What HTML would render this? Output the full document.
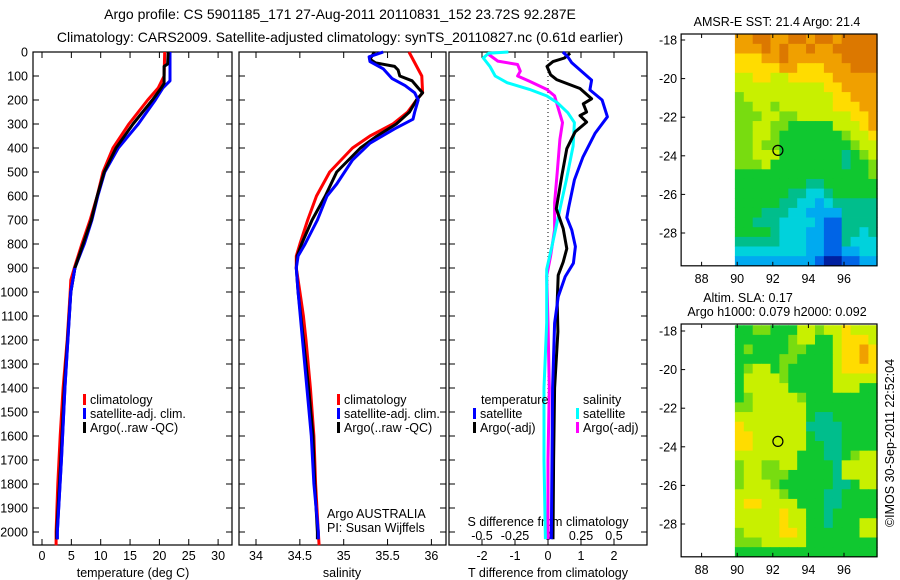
<!DOCTYPE html>
<html><head><meta charset="utf-8">
<style>
html,body{margin:0;padding:0;background:#fff;}
svg{display:block;font-family:"Liberation Sans",sans-serif;}
text{font-size:12.5px;fill:#000;}
text.ttl{font-size:14px;}
</style></head>
<body>
<svg id="chart" width="900" height="580" viewBox="0 0 900 580">
<text class="ttl" x="340" y="19" text-anchor="middle">Argo profile: CS 5901185_171 27-Aug-2011 20110831_152 23.72S 92.287E</text>
<text class="ttl" x="340" y="42" text-anchor="middle">Climatology: CARS2009. Satellite-adjusted climatology: synTS_20110827.nc (0.61d earlier)</text>
<g id="g"></g>
</svg>
<script>
// ---- data ----
const depthTicks=[0,100,200,300,400,500,600,700,800,900,1000,1100,1200,1300,1400,1500,1600,1700,1800,1900,2000];
const tempTicks=[0,5,10,15,20,25,30];
const salTicks=[34,34.5,35,35.5,36];
const tdiffTicks=[-2,-1,0,1,2];
const sdiffTicks=[-0.5,-0.25,0,0.25,0.5];
const sdiffTickLabels=["-0.5","-0.25","0","0.25","0.5"];

const climTdep=[0,100,150,200,300,400,500,600,700,800,900,950,1000,1200,1400,1600,1800,2000,2055];
const climT=[20.9,20.8,19.8,18,14.8,12.1,10.4,9.4,8.2,6.8,5.5,4.9,4.8,4.3,3.6,3.1,2.7,2.4,2.4];
const satTdep=[0,120,150,200,300,400,500,600,700,800,900,1000,1400,1700,2000,2030];
const satT=[21.8,21.8,20.6,19.3,16.4,13,10.7,9.5,8.5,7.2,5.6,4.9,3.9,3.3,2.6,2.6];
const argoTdep=[0,50,60,130,150,200,300,400,500,600,700,800,900,1000,1400,1700,2000,2030];
const argoT=[21.5,21.4,20.8,20.8,20.3,18.8,15.5,12.6,10.6,9.4,8.4,7.0,5.6,4.9,3.8,3.2,2.5,2.5];

const climSdep=[0,100,170,200,250,300,350,400,500,600,700,800,850,900,950,1000,1100,1200,1400,1600,1800,2000,2055];
const climS=[35.745,35.89,35.9,35.83,35.73,35.56,35.3,35.1,34.84,34.69,34.59,34.5,34.46,34.46,34.48,34.5,34.54,34.57,34.62,34.66,34.68,34.71,34.72];
const satSdep=[0,20,40,70,110,140,170,200,250,280,320,380,450,550,600,700,800,850,900,1000,1200,1400,1600,1800,2000,2030];
const satS=[35.45,35.29,35.3,35.45,35.55,35.7,35.81,35.85,35.81,35.79,35.58,35.3,35.1,34.92,34.81,34.7,34.56,34.48,34.46,34.48,34.53,34.58,34.63,34.66,34.71,34.71];
const argoSdep=[0,30,45,60,75,100,120,150,170,200,250,300,350,400,500,600,700,800,850,900,1000,1200,1400,1600,1800,2000,2030];
const argoS=[35.35,35.3,35.36,35.58,35.62,35.64,35.78,35.85,35.9,35.83,35.75,35.6,35.38,35.19,34.92,34.79,34.64,34.52,34.47,34.46,34.48,34.54,34.6,34.65,34.67,34.7,34.7];

const satTdDep=[0,20,45,117,158,200,270,338,437,533,645,690,742,811,880,936,1020,1130,1400,1700,2030];
const satTd=[0.45,0.6,0.72,1.32,1.27,1.64,1.8,1.43,1.06,0.8,0.63,0.57,0.72,0.83,0.77,0.52,0.31,0.2,0.14,0.12,0.1];
const argoTdDep=[5,25,40,60,95,115,152,195,216,250,265,292,333,361,403,514,653,736,819,875,930,1042,1165,1400,1700,2030];
const argoTd=[0.67,0.5,0.15,-0.03,0.08,0.26,0.97,1.32,1.07,1.17,0.97,1.17,0.82,0.72,0.57,0.42,0.25,0.46,0.57,0.46,0.31,0.28,0.3,0.2,0.17,0.15];
const satSdDep=[0,5,25,60,100,128,156,183,211,253,294,392,530,655,808,905,1127,1400,1700,2030];
const satSd=[-0.3,-0.45,-0.49,-0.44,-0.4,-0.31,-0.14,-0.01,0.07,0.15,0.2,0.19,0.14,0.09,0.03,-0.01,-0.01,-0.03,-0.03,-0.02];
const argoSdDep=[10,38,52,80,100,122,156,183,240,294,364,503,628,740,850,933,1127,1400,1700,2030];
const argoSd=[-0.45,-0.38,-0.23,-0.21,-0.23,-0.14,-0.01,0.05,0.08,0.11,0.09,0.07,0.05,0.05,0.02,-0.01,0,0.01,0,0];

const mapLonTicks=[88,90,92,94,96];
const mapLatTicks=[-18,-20,-22,-24,-26,-28];
const sstGrid=["99aa99aa9aa9aaaa","999a9a99a99aaaaa","88899a999999aaaa","8888899888999aaa","7788778888899999","7777777777889999","6777777777788999","6677677777788899","6667766777777889","6677665555577789","6677655555556778","6676655555555677","6677755555554567","6667555555554556","5555555555555556","5555555544555555","5555554433455555","5555544332344444","5554443322224444","5544433332114444","5555433322114434","4444433322114333","3333333322112233","2222222221001122"];
const slaGrid=["5566555776778777","5555556775578887","5655556655578898","5555566555578898","5677565555578888","5777765555577777","5777775555577755","5677777655555555","6677777755555555","7777777754455555","8777777744445555","8877777754445555","8877777755445555","7777777555445677","6776677555547777","6776665555547777","6777655555544577","7777765555445555","7887777555445555","7777787755455555","7777787755455577","6777788755555577","6667777755555555","5555555555555555"];
const argoLon=92.287, argoLat=-23.72;

// ---- helpers ----
const NS="http://www.w3.org/2000/svg";
const G=document.getElementById('g');
function mk(tag,attrs,parent){const e=document.createElementNS(NS,tag);for(const k in attrs)e.setAttribute(k,attrs[k]);(parent||G).appendChild(e);return e;}
const TOP=52,BOT=545;
const yD=d=>TOP+0.24*d;
const xT=t=>42+5.87*t;
const xS=s=>256+87.7*(s-34);
const xTd=v=>548+33*v;
const xSd=v=>548+132*v;

function panel(x0,x1,name){
  const r=mk('rect',{x:x0,y:TOP,width:x1-x0,height:BOT-TOP,fill:'none',stroke:'#000','stroke-width':1.2});
  
  
  depthTicks.forEach(d=>{
    const t1=mk('line',{x1:x0,x2:x0+6,y1:yD(d),y2:yD(d),stroke:'#000'});
    
    
    const t2=mk('line',{x1:x1-6,x2:x1,y1:yD(d),y2:yD(d),stroke:'#000'});
    
    
  });
}
function xticks(vals,labels,fx,name,ly){
  vals.forEach((v,i)=>{
    const a=mk('line',{x1:fx(v),x2:fx(v),y1:BOT-6,y2:BOT,stroke:'#000'});
    
    
    const b=mk('line',{x1:fx(v),x2:fx(v),y1:TOP,y2:TOP+6,stroke:'#000'});
    
    
    const t=mk('text',{x:fx(v),y:ly,'text-anchor':'middle'});
    t.textContent=labels[i];
    
    
  });
}
function series(deps,vals,fx,color,name){
  const pts=deps.map((d,i)=>fx(vals[i]).toFixed(1)+','+yD(d).toFixed(1)).join(' ');
  const p=mk('polyline',{points:pts,fill:'none',stroke:color,'stroke-width':3,'stroke-linejoin':'round'});
  
  
}
function label(x,y,txt,name,anchor){
  const t=mk('text',{x:x,y:y,'text-anchor':anchor||'start'});
  t.textContent=txt;
  
  
  return t;
}
function legend(x,y,color,txt,name){
  const m=mk('rect',{x:x,y:y-10,width:3,height:11,fill:color});
  
  
  label(x+7,y,txt,name);
}

// depth labels
depthTicks.forEach(d=>{
  const t=mk('text',{x:28,y:yD(d)+4.5,'text-anchor':'end'});
  t.textContent=d;
  
  
});

// panel 1
panel(33,232,'temperature-panel');
xticks(tempTicks,tempTicks.map(String),xT,'temperature-axis',560);
label(133,577,'temperature (deg C)','temperature-axis-title','middle');
series(climTdep,climT,xT,'#f00','temperature-climatology-line');
series(satTdep,satT,xT,'#00f','temperature-satellite-line');
series(argoTdep,argoT,xT,'#000','temperature-argo-line');
series(satTdep.slice(10),satT.slice(10),xT,'#00f','temperature-satellite-line-deep');
legend(83,404,'#f00','climatology','temperature-legend-climatology');
legend(83,418,'#00f','satellite-adj. clim.','temperature-legend-satellite');
legend(83,432,'#000','Argo(..raw -QC)','temperature-legend-argo');

// panel 2
panel(239,446,'salinity-panel');
xticks(salTicks,salTicks.map(String),xS,'salinity-axis',560);
label(342,577,'salinity','salinity-axis-title','middle');
series(climSdep,climS,xS,'#f00','salinity-climatology-line');
series(argoSdep,argoS,xS,'#000','salinity-argo-line');
series(satSdep,satS,xS,'#00f','salinity-satellite-line');
legend(337,404,'#f00','climatology','salinity-legend-climatology');
legend(337,418,'#00f','satellite-adj. clim.','salinity-legend-satellite');
legend(337,432,'#000','Argo(..raw -QC)','salinity-legend-argo');
label(327,518,'Argo AUSTRALIA','argo-australia-note');
label(327,532,'PI: Susan Wijffels','pi-note');

// panel 3
panel(449,647,'difference-panel');
const z=mk('line',{x1:xTd(0),x2:xTd(0),y1:TOP,y2:BOT,stroke:'#000','stroke-dasharray':'1,3'});


xticks(tdiffTicks,tdiffTicks.map(String),xTd,'t-difference-axis',560);
label(548,577,'T difference from climatology','t-difference-axis-title','middle');
sdiffTicks.forEach((v,i)=>{
  const t=mk('text',{x:xSd(v),y:540,'text-anchor':'middle'});
  t.textContent=sdiffTickLabels[i];
  
  
});
label(548,526,'S difference from climatology','s-difference-axis-title','middle');
series(argoSdDep,argoSd,xSd,'#f0f','salinity-argo-difference-line');
series(satSdDep,satSd,xSd,'#0ff','salinity-satellite-difference-line');
series(argoTdDep,argoTd,xTd,'#000','temperature-argo-difference-line');
series(satTdDep,satTd,xTd,'#00f','temperature-satellite-difference-line');
label(481,404,'temperature','difference-legend-temperature-heading');
label(583,404,'salinity','difference-legend-salinity-heading');
legend(473,418,'#00f','satellite','difference-legend-temperature-satellite');
legend(473,432,'#000','Argo(-adj)','difference-legend-temperature-argo');
legend(576,418,'#0ff','satellite','difference-legend-salinity-satellite');
legend(576,432,'#f0f','Argo(-adj)','difference-legend-salinity-argo');

// maps
const palette={'0':'#0020a0','1':'#0064e6','2':'#00aaf0','3':'#00d2dc','4':'#00be8c','5':'#10c830','6':'#78dc10','7':'#c8f000','8':'#ffdc00','9':'#f0a000','a':'#dc7800'};
const mLon=v=>844+17.8*(v-96);
function drawMap(grid,top,lat18,name){
  const mLat=v=>lat18+19.3*(-18-v);
  const fl=mLon(86.85), fr=877, ft=top, fb=mLat(-29.7);
  const lon0=89.87, lat0=-17.7;
  grid.forEach((row,r)=>{
    for(let c=0;c<row.length;c++){
      const x=mLon(lon0+c*0.5), y=mLat(lat0-r*0.5);
      const cell=mk('rect',{x:x.toFixed(2),y:y.toFixed(2),width:(17.8*0.5+0.4).toFixed(2),height:(19.3*0.5+0.4).toFixed(2),fill:palette[row[c]]});
      
      
    }
  });
  const f=mk('rect',{x:fl,y:ft,width:fr-fl,height:fb-ft,fill:'none',stroke:'#000','stroke-width':1.2});
  
  
  mapLonTicks.forEach(v=>{
    const a=mk('line',{x1:mLon(v),x2:mLon(v),y1:fb-4,y2:fb,stroke:'#000'});
    
    
    const b=mk('line',{x1:mLon(v),x2:mLon(v),y1:ft,y2:ft+4,stroke:'#000'});
    
    
    label(mLon(v),fb+17,String(v),name+'-lon-label','middle');
  });
  mapLatTicks.forEach(v=>{
    const a=mk('line',{x1:fl,x2:fl+4,y1:mLat(v),y2:mLat(v),stroke:'#000'});
    
    
    label(fl-4,mLat(v)+4.5,String(v),name+'-lat-label','end');
  });
  const c=mk('circle',{cx:mLon(argoLon),cy:mLat(argoLat),r:5,fill:'none',stroke:'#000','stroke-width':1.2});
  
  
}
drawMap(sstGrid,34,40,'sst-map');
label(777,26,'AMSR-E SST: 21.4  Argo: 21.4','sst-map-title','middle');
drawMap(slaGrid,324,331,'sla-map');
label(748,302,'Altim. SLA: 0.17','sla-map-title','middle');
label(777,316,'Argo h1000: 0.079  h2000: 0.092','sla-map-subtitle','middle');
const cr=label(0,0,'©IMOS 30-Sep-2011 22:52:04','imos-credit','middle');
cr.setAttribute('transform','translate(894,443) rotate(-90)');
</script>
</body></html>
